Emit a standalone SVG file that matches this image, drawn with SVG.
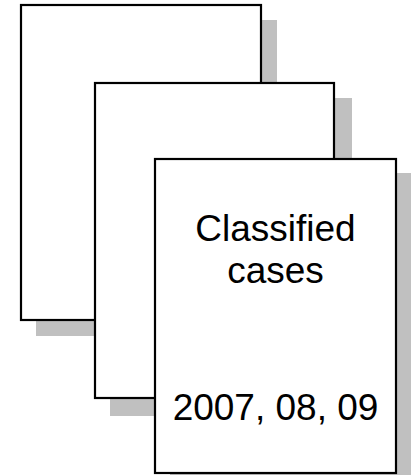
<svg xmlns="http://www.w3.org/2000/svg" width="411" height="475" viewBox="0 0 411 475">
<style>
.sh{fill:#c0c0c0}
.pg{fill:#fff;stroke:#000;stroke-width:2.2}
.t{font-family:"Liberation Sans",Arial,sans-serif;font-size:37px;fill:#000;text-anchor:middle}
</style>
<rect width="411" height="475" fill="#fff"/>
<g id="page1">
<rect class="sh" x="36" y="20" width="241" height="316"/>
<rect class="pg" x="21" y="5" width="240" height="315"/>
</g>
<g id="page2">
<rect class="sh" x="110" y="98" width="242" height="318"/>
<rect class="pg" x="95" y="83" width="239" height="315"/>
</g>
<g id="page3">
<rect class="sh" x="170" y="173" width="243" height="318"/>
<rect class="pg" x="155" y="159" width="241" height="314"/>
<text class="t" x="275.5" y="241">Classified</text>
<text class="t" x="275.5" y="283">cases</text>
<text class="t" x="275.5" y="420">2007, 08, 09</text>
</g>
<g id="connectors"/>
</svg>
